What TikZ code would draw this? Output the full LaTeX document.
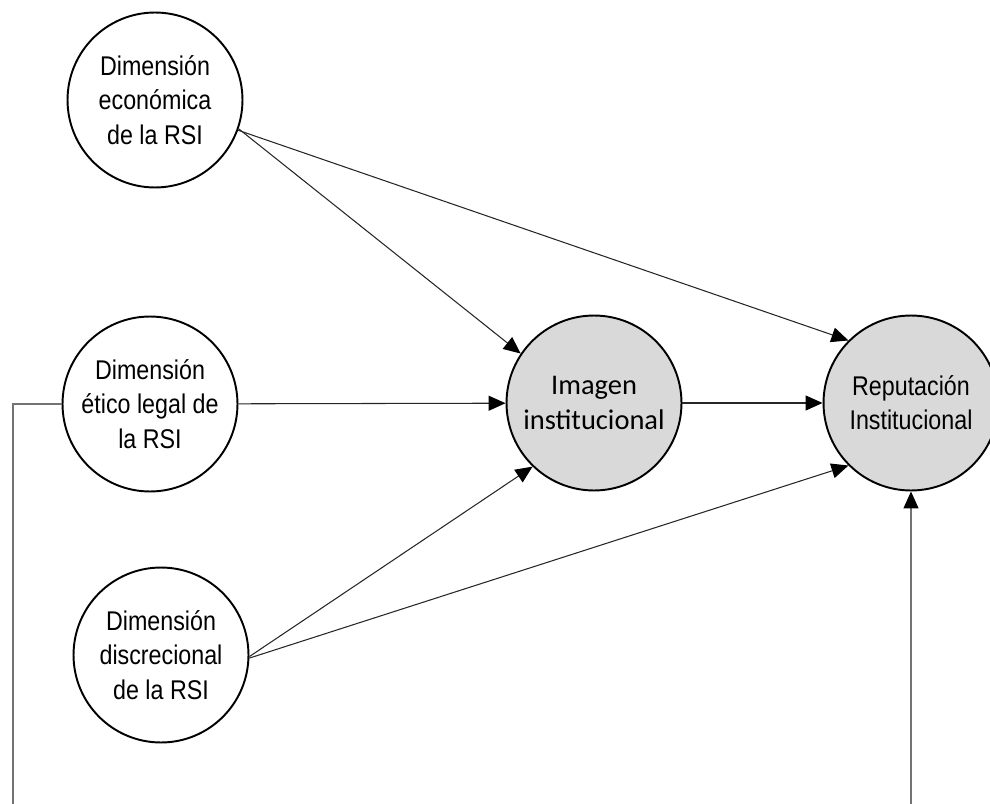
\documentclass[tikz,border=0pt]{standalone}
\usepackage{fontspec}
\setmainfont[FakeStretch=0.86]{Liberation Sans}
\newfontfamily\calfont{Carlito}
\usetikzlibrary{arrows.meta}
\definecolor{fondo}{HTML}{D9D9D9}
\tikzset{
	dim/.style = {circle, draw, line width=1.1pt, minimum size=3.5cm, inner sep=0pt, align=center, font=\fontsize{15.4}{19.5}\selectfont},
	var/.style = {dim, fill=fondo},
	flecha/.style = {-{Triangle[length=0.34cm, width=0.3cm, black]}, line width=0.6pt, draw=black!85},
	linea/.style = {line width=0.8pt, draw=black!55}
}
\begin{document}
\begin{tikzpicture}[x=0.02cm, y=-0.02cm]
		\useasboundingbox (0,0) rectangle (990,804);
		\node[dim] (eco) at (155,100) {Dimensión\\económica\\de la RSI};
		\node[dim] (etico) at (150,404) {Dimensión\\ético legal de\\la RSI};
		\node[dim] (disc) at (161,655) {Dimensión\\discrecional\\de la RSI};
		\node[var, font=\calfont\fontsize{16.2}{20.2}\selectfont] (img) at (594,403) {Imagen\\institucional};
		\node[var] (rep) at (911,403) {Reputación\\Institucional};
		\coordinate (lt) at (13,404);
		\coordinate (lb) at (13,804);
		\coordinate (rb) at (rep.south |- 0,804);
		\draw[flecha] (eco.-19) -- (img.146);
		\draw[flecha] (eco.-20) -- (rep.135);
		\draw[flecha] (etico) -- (img);
		\draw[flecha] (img) -- (rep);
		\draw[flecha] (disc.-1) -- (img.226);
		\draw[flecha] (disc.-2) -- (rep.225);
		\draw[linea] (etico.west) -- (lt) -- (lb);
		\draw[flecha, draw=black!55, line width=0.8pt] (rb) -- (rep.south);
\end{tikzpicture}
\end{document}
